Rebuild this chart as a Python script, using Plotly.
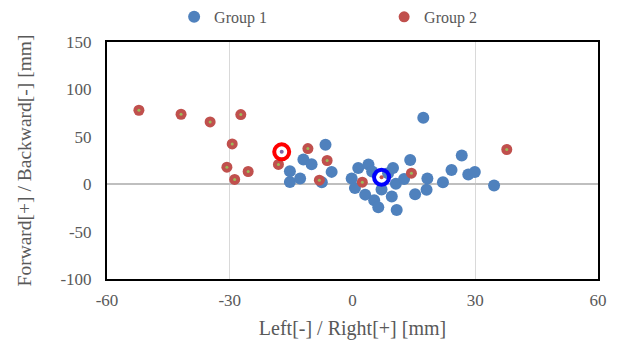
import plotly.graph_objects as go

# Group 1 (blue) points: Left/Right [mm], Forward/Backward [mm]
g1_x = [-15.3, -12.0, -10.0, -6.6, -5.1, -15.3, -12.8, -7.5, -0.2, 1.4, 3.9, 0.6,
        3.1, 5.3, 6.3, 7.1, 9.6, 10.8, 9.9, 10.6, 12.6, 14.1, 15.3, 18.1, 18.3,
        17.3, 26.7, 24.2, 28.3, 29.9, 34.6, 22.1, 4.8, 8.7]
g1_y = [13.7, 26.0, 21.0, 41.5, 13.0, 2.4, 6.0, 2.1, 6.0, 17.2, 20.8, -3.9,
        -11.0, -17.0, -24.3, -5.6, -13.0, -27.3, 17.0, 0.5, 5.5, 25.5, -10.5, -5.8, 6.0,
        70.0, 30.3, 15.1, 10.2, 12.9, -1.4, 2.1, 13.5, 11.5]

# Group 2 (red) points
g2_x = [-52.2, -41.9, -34.8, -27.3, -29.4, -30.7, -25.5, -28.8, -18.1, -10.9,
        -8.1, -6.2, 2.4, 14.4, 37.7]
g2_y = [78.0, 73.8, 65.7, 73.5, 42.5, 17.9, 13.4, 5.0, 20.8, 37.6,
        4.2, 25.0, 2.1, 11.6, 36.6]

# Group means (rings)
mean1_x, mean1_y = [7.1], [7.4]
mean2_x, mean2_y = [-17.3], [34.1]

x_ticks = [-60, -30, 0, 30, 60]
y_ticks = [-100, -50, 0, 50, 100, 150]

SERIF = "Liberation Serif, Times New Roman, serif"
GRAY = "#595959"

fig = go.Figure()
fig.add_trace(go.Scatter(x=g1_x, y=g1_y, mode="markers", name="Group 1",
                         marker=dict(size=12, color="#4F81BD")))
fig.add_trace(go.Scatter(x=g2_x, y=g2_y, mode="markers", name="Group 2",
                         marker=dict(size=11, color="#C0504D")))
fig.add_trace(go.Scatter(x=g2_x, y=g2_y, mode="markers", showlegend=False,
                         hoverinfo="skip", marker=dict(size=3, color="#9BBB59")))
# mean rings
fig.add_trace(go.Scatter(x=mean2_x, y=mean2_y, mode="markers", showlegend=False,
                         marker=dict(size=15, color="rgba(0,0,0,0)",
                                     line=dict(color="#FF0000", width=4))))
fig.add_trace(go.Scatter(x=mean2_x, y=mean2_y, mode="markers", showlegend=False,
                         marker=dict(size=4, color="#8064A2")))
fig.add_trace(go.Scatter(x=mean1_x, y=mean1_y, mode="markers", showlegend=False,
                         marker=dict(size=15, color="rgba(0,0,0,0)",
                                     line=dict(color="#0000FF", width=4))))
fig.add_trace(go.Scatter(x=mean1_x, y=mean1_y, mode="markers", showlegend=False,
                         marker=dict(size=4, color="#C0504D")))

fig.update_layout(
    width=613, height=342,
    margin=dict(l=99, r=23, t=34, b=71, autoexpand=False),
    paper_bgcolor="white", plot_bgcolor="white",
    font=dict(family=SERIF, color=GRAY, size=17),
    legend=dict(orientation="h", xref="container", yref="container",
                x=0.271, xanchor="left", y=0.974, yanchor="middle",
                entrywidth=165, entrywidthmode="pixels",
                font=dict(family=SERIF, size=16, color=GRAY)),
    xaxis=dict(range=[-60, 60], tickvals=x_ticks, ticktext=[str(v) for v in x_ticks],
               showgrid=True, gridcolor="#D9D9D9", gridwidth=1,
               zeroline=True, zerolinecolor="white", zerolinewidth=1,
               showline=True, linecolor="black", linewidth=2, mirror=True,
               ticks="outside", ticklen=5, tickcolor="rgba(0,0,0,0)",
               tickfont=dict(family=SERIF, size=17, color=GRAY),
               title=dict(text="Left[-] / Right[+] [mm]", standoff=12,
                          font=dict(family=SERIF, size=20, color=GRAY))),
    yaxis=dict(range=[-100, 150], tickvals=y_ticks, ticktext=[str(v) for v in y_ticks],
               showgrid=False,
               zeroline=True, zerolinecolor="#BFBFBF", zerolinewidth=1.5,
               showline=True, linecolor="black", linewidth=2, mirror=True,
               ticks="outside", ticklen=10, tickcolor="rgba(0,0,0,0)",
               tickfont=dict(family=SERIF, size=17, color=GRAY),
               title=dict(text="Forward[+] / Backward[-] [mm]", standoff=24,
                          font=dict(family=SERIF, size=19.5, color=GRAY))),
)

fig.write_html("out.html")
